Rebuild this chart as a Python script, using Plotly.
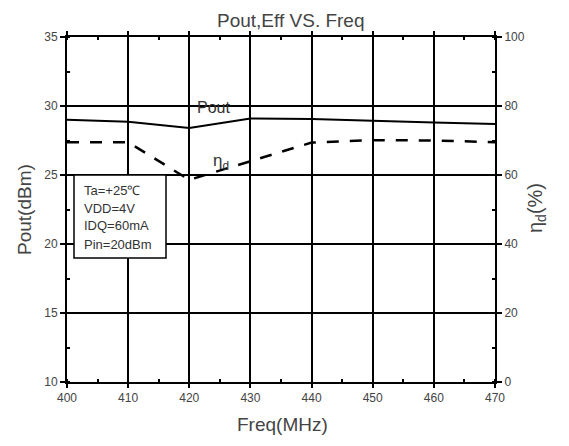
import plotly.graph_objects as go

freq = [400, 410, 420, 430, 440, 450, 460, 470]
pout = [29.0, 28.86, 28.4, 29.1, 29.05, 28.9, 28.8, 28.7]
eff = [69.5, 69.5, 58.6, 64.0, 69.4, 70.1, 70.0, 69.5]
cond_lines = ["Ta=+25℃", "VDD=4V", "IDQ=60mA", "Pin=20dBm"]

FONT = "Liberation Sans, Arial, sans-serif"
W, H = 569, 446
L, R, T, B = 67, 74, 37, 64
pw, ph = W - L - R, H - T - B

def px(x):  # pixel x -> paper
    return (x - L) / pw

def py(y):  # pixel y -> paper
    return (H - B - y) / ph

fig = go.Figure()
fig.add_trace(go.Scatter(x=freq, y=pout, mode="lines",
                         line=dict(color="black", width=2), yaxis="y", showlegend=False))
fig.add_trace(go.Scatter(x=freq, y=eff, mode="lines",
                         line=dict(color="black", width=2.5, dash="12px,11px"),
                         yaxis="y2", showlegend=False))

tickfont = dict(family=FONT, size=12, color="#444")
fig.update_layout(
    width=W, height=H,
    margin=dict(l=L, r=R, t=T, b=B),
    paper_bgcolor="white", plot_bgcolor="white",
    font=dict(family=FONT, color="#333"),
    xaxis=dict(range=[400, 470], dtick=10, tick0=400, showgrid=True,
               gridcolor="black", gridwidth=1.5, zeroline=False,
               showline=True, linecolor="black", linewidth=2, mirror="ticks",
               ticks="outside", ticklen=4, tickcolor="black", tickwidth=1.5,
               minor=dict(dtick=5, ticks="inside", ticklen=3, tickcolor="black", showgrid=False),
               tickfont=tickfont),
    yaxis=dict(range=[10, 35], dtick=5, tick0=10, showgrid=True,
               gridcolor="black", gridwidth=1.5, zeroline=False,
               showline=True, linecolor="black", linewidth=2,
               ticks="outside", ticklen=5, tickcolor="black", tickwidth=1.5,
               minor=dict(dtick=2.5, ticks="inside", ticklen=3, tickcolor="black", showgrid=False),
               tickfont=tickfont),
    yaxis2=dict(range=[0, 100], dtick=20, tick0=0, overlaying="y", side="right",
                showgrid=False, zeroline=False,
                showline=True, linecolor="black", linewidth=2,
                ticks="outside", ticklen=5, tickcolor="black", tickwidth=1.5,
                minor=dict(dtick=10, ticks="inside", ticklen=3, tickcolor="black", showgrid=False),
                tickfont=tickfont),
)

ann = []
ann.append(dict(text="Pout,Eff VS. Freq", xref="paper", yref="paper",
                x=px(291), y=py(21), showarrow=False, xanchor="center", yanchor="middle",
                font=dict(family=FONT, size=19, color="#444")))
ann.append(dict(text="Freq(MHz)", xref="paper", yref="paper",
                x=px(282), y=py(424), showarrow=False, xanchor="center", yanchor="middle",
                font=dict(family=FONT, size=19, color="#444")))
ann.append(dict(text="Pout(dBm)", xref="paper", yref="paper", textangle=-90,
                x=px(25), y=py(210), showarrow=False, xanchor="center", yanchor="middle",
                font=dict(family=FONT, size=19, color="#444")))
ann.append(dict(text="η<sub>d</sub>(%)", xref="paper", yref="paper", textangle=-90,
                x=px(536), y=py(208), showarrow=False, xanchor="center", yanchor="middle",
                font=dict(family=FONT, size=20, color="#444")))
ann.append(dict(text="Pout", xref="x", yref="y", x=424, y=29.9, showarrow=False,
                xanchor="center", yanchor="middle",
                font=dict(family=FONT, size=16, color="#333")))
ann.append(dict(text="η<sub>d</sub>", xref="x", yref="y2", x=425.2, y=63.8, showarrow=False,
                xanchor="center", yanchor="middle",
                font=dict(family=FONT, size=17, color="#333")))

# condition box
box_l, box_r, box_t, box_b = 74, 166, 175, 258
fig.add_shape(type="rect", xref="paper", yref="paper",
              x0=px(box_l), x1=px(box_r), y0=py(box_b), y1=py(box_t),
              fillcolor="white", line=dict(color="black", width=1.5), layer="above")
line_y = [190, 208, 226, 244]
for txt, yy in zip(cond_lines, line_y):
    ann.append(dict(text=txt, xref="paper", yref="paper", x=px(box_l + 8), y=py(yy),
                    showarrow=False, xanchor="left", yanchor="middle",
                    font=dict(family=FONT, size=13, color="#333")))

fig.update_layout(annotations=ann)
fig.write_html("out.html")
